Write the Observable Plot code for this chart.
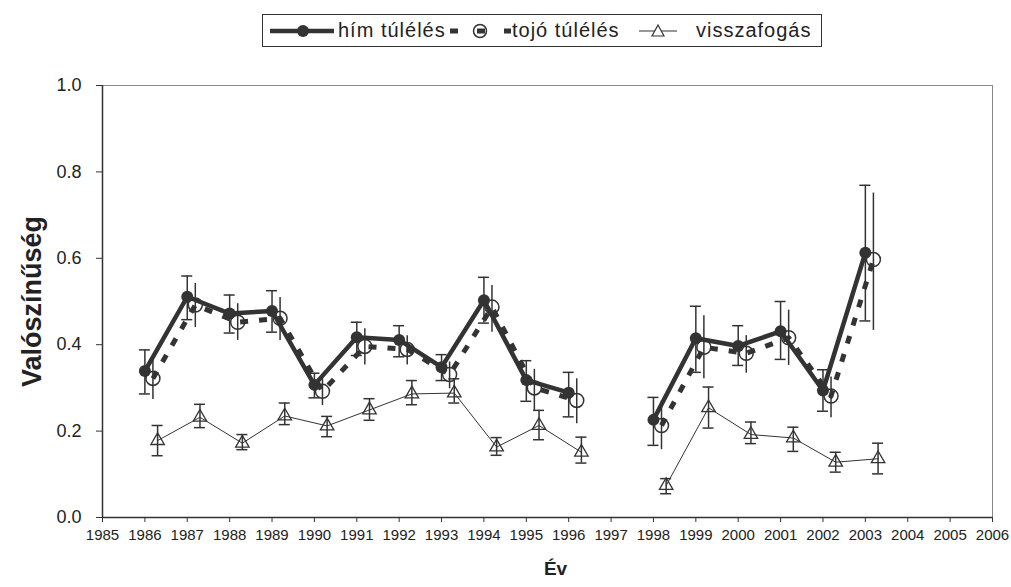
<!DOCTYPE html>
<html>
<head>
<meta charset="utf-8">
<script src="https://cdn.jsdelivr.net/npm/d3@7"></script>
<script src="https://cdn.jsdelivr.net/npm/@observablehq/plot@0.6"></script>
<style>
  body { margin: 0; background: #fff; font-family: "Liberation Sans", Arial, sans-serif; }
  #chart { width: 1011px; }
  #legend { position: relative; height: 60px; }
  #legend .box {
    position: absolute; left: 262px; top: 14px; width: 558px; height: 31px;
    border: 1.5px solid #333; box-sizing: content-box;
  }
  #legend .item { position: absolute; top: 0; height: 31px; display: flex; align-items: center; }
  #legend .label { font-size: 20px; color: #222; letter-spacing: 1px; white-space: nowrap; }
  #legend svg { display: block; }
</style>
</head>
<body>
<div id="chart">
  <div id="legend"><div class="box"></div></div>
  <div id="plot"></div>
</div>
<script>
// Survival (male / female) and recapture probabilities by year, with confidence limits
const years = [1986, 1987, 1988, 1989, 1990, 1991, 1992, 1993, 1994, 1995, 1996, 1997, 1998, 1999, 2000, 2001, 2002, 2003];

const maleSurv = [0.339, 0.511, 0.472, 0.478, 0.307, 0.417, 0.411, 0.348, 0.503, 0.318, 0.289, null, 0.226, 0.415, 0.397, 0.431, 0.294, 0.613];
const maleLo   = [0.286, 0.458, 0.427, 0.429, 0.277, 0.375, 0.372, 0.317, 0.450, 0.269, 0.233, null, 0.167, 0.336, 0.352, 0.366, 0.246, 0.455];
const maleHi   = [0.388, 0.559, 0.515, 0.525, 0.334, 0.452, 0.444, 0.377, 0.556, 0.363, 0.336, null, 0.278, 0.489, 0.444, 0.500, 0.342, 0.769];

const femaleSurv = [0.322, 0.492, 0.452, 0.461, 0.292, 0.396, 0.389, 0.331, 0.487, 0.300, 0.271, null, 0.213, 0.394, 0.380, 0.416, 0.281, 0.597];
const femaleLo   = [0.273, 0.440, 0.410, 0.410, 0.259, 0.353, 0.353, 0.298, 0.429, 0.248, 0.217, null, 0.157, 0.321, 0.334, 0.352, 0.231, 0.433];
const femaleHi   = [0.370, 0.542, 0.495, 0.509, 0.325, 0.437, 0.421, 0.360, 0.537, 0.343, 0.321, null, 0.270, 0.467, 0.421, 0.480, 0.325, 0.751];

const recapture   = [0.178, 0.232, 0.172, 0.235, 0.212, 0.249, 0.286, 0.288, 0.163, 0.213, 0.151, null, 0.074, 0.254, 0.192, 0.184, 0.128, 0.136];
const recaptureLo = [0.143, 0.208, 0.157, 0.215, 0.187, 0.225, 0.261, 0.265, 0.144, 0.180, 0.126, null, 0.055, 0.207, 0.171, 0.153, 0.105, 0.101];
const recaptureHi = [0.213, 0.262, 0.192, 0.265, 0.234, 0.275, 0.317, 0.321, 0.185, 0.248, 0.186, null, 0.090, 0.302, 0.221, 0.209, 0.151, 0.172];

const seriesNames = ["hím túlélés", "tojó túlélés", "visszafogás"];
const xTicks = d3.range(1985, 2007);
const yTicks = [0, 0.2, 0.4, 0.6, 0.8, 1.0];
const xLabel = "Év";
const yLabel = "Valószínűség";

const ink = "#333";

// Series are nudged sideways so that their error bars do not overlap
function rows(values, lo, hi, shift) {
  return years.map((year, i) => ({year, x: year + shift, v: values[i], lo: lo[i], hi: hi[i]}));
}
const male = rows(maleSurv, maleLo, maleHi, 0);
const female = rows(femaleSurv, femaleLo, femaleHi, 0.19);
const recap = rows(recapture, recaptureLo, recaptureHi, 0.3);
const has = d => d.v != null;
const cap = 0.13;

const capMarks = (data) => [
  Plot.ruleY(data, {filter: has, y: "hi", x1: d => d.x - cap, x2: d => d.x + cap, stroke: ink, strokeWidth: 1.5}),
  Plot.ruleY(data, {filter: has, y: "lo", x1: d => d.x - cap, x2: d => d.x + cap, stroke: ink, strokeWidth: 1.5})
];

const chart = Plot.plot({
  width: 1011,
  height: 527,
  marginTop: 25,
  marginBottom: 70,
  marginLeft: 102,
  marginRight: 19,
  x: {domain: [1985, 2006]},
  y: {domain: [0, 1]},
  style: {fontFamily: "'Liberation Sans', Arial, sans-serif", color: "#222", background: "#fff"},
  marks: [
    Plot.frame({stroke: "#888", strokeWidth: 1}),
    Plot.ruleX([1985], {stroke: ink, strokeWidth: 1.5}),
    Plot.ruleY([0], {stroke: ink, strokeWidth: 1.5}),
    Plot.axisY({ticks: yTicks, tickFormat: d3.format(".1f"), tickSize: 6, tickPadding: 15, fontSize: 18, label: null, stroke: ink}),
    Plot.axisX({ticks: xTicks, tickFormat: "d", tickSize: 5, tickPadding: 7, fontSize: 15, label: null, stroke: ink}),
    Plot.text([yLabel], {frameAnchor: "left", textAnchor: "middle", dx: -70, rotate: -90, fontSize: 27, fontWeight: "bold", fill: "#222", ariaLabel: "y-title"}),
    Plot.text([xLabel], {frameAnchor: "bottom", textAnchor: "middle", dx: 8, dy: 57, fontSize: 19, fontWeight: "bold", fill: "#222"}),

    // male survival
    Plot.ruleX(male, {filter: has, x: "x", y1: "lo", y2: "hi", stroke: ink, strokeWidth: 1.5}),
    ...capMarks(male),
    Plot.line(male, {x: "x", y: "v", stroke: ink, strokeWidth: 4.5}),
    Plot.dot(male, {filter: has, x: "x", y: "v", r: 6, fill: ink}),

    // female survival
    Plot.ruleX(female, {filter: has, x: "x", y1: "lo", y2: "hi", stroke: ink, strokeWidth: 1.5}),
    Plot.line(female, {x: "x", y: "v", stroke: ink, strokeWidth: 5, strokeDasharray: "8,11", strokeLinecap: "butt"}),
    Plot.dot(female, {filter: has, x: "x", y: "v", r: 7, stroke: ink, strokeWidth: 1.5, fill: "none"}),

    // recapture
    Plot.ruleX(recap, {filter: has, x: "x", y1: "lo", y2: "hi", stroke: ink, strokeWidth: 1.5}),
    ...capMarks(recap),
    Plot.line(recap, {x: "x", y: "v", stroke: ink, strokeWidth: 1}),
    Plot.dot(recap, {filter: has, x: "x", y: "v", r: 5, symbol: "triangle", stroke: ink, strokeWidth: 1.3, fill: "none"})
  ]
});
d3.select(chart).selectAll('g[aria-label="y-title"] text').style("letter-spacing", "3.5px");
document.getElementById("plot").appendChild(chart);

// Legend: swatch + label for each series
const box = d3.select("#legend .box");
const items = [
  {left: 6, w: 66, label: seriesNames[0], labelLeft: 75, draw: s => {
    s.append("line").attr("x1", 1).attr("x2", 65).attr("y1", 10).attr("y2", 10).attr("stroke", ink).attr("stroke-width", 4.5);
    s.append("circle").attr("cx", 34).attr("cy", 10).attr("r", 6).attr("fill", ink);
  }},
  {left: 185, w: 64, label: seriesNames[1], labelLeft: 249, draw: s => {
    s.append("line").attr("x1", 2).attr("x2", 63).attr("y1", 10).attr("y2", 10).attr("stroke", ink).attr("stroke-width", 5).attr("stroke-dasharray", "8,19");
    s.append("circle").attr("cx", 32).attr("cy", 10).attr("r", 6.5).attr("fill", "none").attr("stroke", ink).attr("stroke-width", 1.5);
  }},
  {left: 376, w: 40, label: seriesNames[2], labelLeft: 433, draw: s => {
    s.append("line").attr("x1", 0).attr("x2", 38).attr("y1", 10).attr("y2", 10).attr("stroke", ink).attr("stroke-width", 1);
    s.append("path").attr("d", "M19,4L25,15H13Z").attr("fill", "#fff").attr("stroke", ink).attr("stroke-width", 1.2);
  }}
];
for (const it of items) {
  const sw = box.append("div").attr("class", "item").style("left", it.left + "px");
  it.draw(sw.append("svg").attr("width", it.w).attr("height", 20));
  box.append("div").attr("class", "item").style("left", it.labelLeft + "px")
    .append("span").attr("class", "label").text(it.label);
}
</script>
</body>
</html>
